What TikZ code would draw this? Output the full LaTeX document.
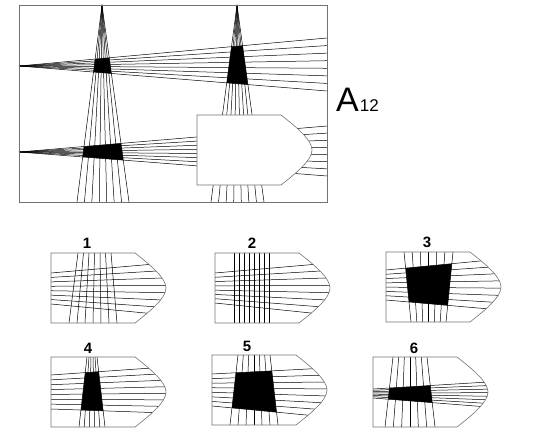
\documentclass[tikz,border=0pt]{standalone}
\usepackage{fontspec}
\setmainfont{Liberation Sans}
\usetikzlibrary{positioning}

\tikzset{
  ray/.style={line width=0.5pt, black},
  rim/.style={line width=0.6pt, black!55},
  optlabel/.style={font=\fontsize{15}{15}\selectfont\bfseries, inner sep=0pt}
}
% outline of the arrow shaped card, origin at its top left corner
\newcommand\tipoutline{(0,0) -- (84,0) .. controls (100,12.5) and (115,25) .. (115,35)
  .. controls (115,45) and (100,57.5) .. (84,70) -- (0,70) -- cycle}
% #1,#2 top ends, #3,#4 bottom ends, #5 number of gaps
\newcommand\vrays[5]{\foreach \k in {0,...,#5}{
    \draw[ray] ({#1+(#2-#1)*\k/#5},0) -- ({#3+(#4-#3)*\k/#5},70);}}
% #1,#2 left ends, #3,#4 right ends, #5 number of gaps
\newcommand\hrays[5]{\foreach \k in {0,...,#5}{
    \draw[ray] (0,{#1+(#2-#1)*\k/#5}) -- (115,{#3+(#4-#3)*\k/#5});}}
\newcommand\overlap[8]{\begin{scope}
    \clip (#1,0) -- (#2,0) -- (#4,70) -- (#3,70) -- cycle;
    \fill (0,#5) -- (115,#7) -- (115,#8) -- (0,#6) -- cycle;
  \end{scope}}

\begin{document}
\begin{tikzpicture}[x=1pt, y=-1pt]
  \useasboundingbox (0,0) rectangle (535,446);

  % the matrix
  \foreach \k in {0,...,7}{
    \draw[ray] (102,5) -- ({77+52*\k/7},202);
    \draw[ray] (237,5) -- ({211+53*\k/7},202);
    \draw[ray] (19,66) -- (327,{38+53*\k/7});
    \draw[ray] (19,152) -- (327,{126+50*\k/7});
  }
  \foreach \ax/\bl/\br in {102/77/129, 237/211/264}{
    \foreach \hy/\rt/\rb in {66/38/91, 152/126/176}{
      \begin{scope}
        \clip (\ax,5) -- (\bl,202) -- (\br,202) -- cycle;
        \fill (19,\hy) -- (327,\rt) -- (327,\rb) -- cycle;
      \end{scope}
    }
  }
  \begin{scope}[shift={(197,115)}]
    \filldraw[rim, fill=white] \tipoutline;
  \end{scope}
  \draw[rim] (19,5) rectangle (327,202);

  \node[font=\fontsize{34}{34}\selectfont, anchor=base west, inner sep=0pt] (title) at (336,112)
    {A\kern1pt\fontsize{17}{17}\selectfont 12};

  % the six answers
  \begin{scope}[shift={(51,253)}]
    \begin{scope} \clip \tipoutline;
      \vrays{27}{60}{18}{66}{6} \hrays{20}{51}{10}{62}{7}
    \end{scope}
    \draw[rim] \tipoutline;
  \end{scope}
  \begin{scope}[shift={(215,253)}]
    \begin{scope} \clip \tipoutline;
      \vrays{19}{54}{19}{54}{7} \hrays{20}{50}{10}{62}{7}
    \end{scope}
    \draw[rim] \tipoutline;
  \end{scope}
  \begin{scope}[shift={(386,252)}]
    \begin{scope} \clip \tipoutline;
      \vrays{18}{67}{25}{60}{6} \hrays{18}{48}{7}{58}{7}
      \overlap{18}{67}{25}{60}{18}{48}{7}{58}
    \end{scope}
    \draw[rim] \tipoutline;
  \end{scope}
  \begin{scope}[shift={(51,357)}]
    \begin{scope} \clip \tipoutline;
      \vrays{36}{46}{28}{54}{5} \hrays{18}{52}{10}{56}{7}
      \overlap{36}{46}{28}{54}{18}{52}{10}{56}
    \end{scope}
    \draw[rim] \tipoutline;
  \end{scope}
  \begin{scope}[shift={(212,355)}]
    \begin{scope} \clip \tipoutline;
      \vrays{26}{58}{18}{66}{6} \hrays{19}{51}{13}{62}{7}
      \overlap{26}{58}{18}{66}{19}{51}{13}{62}
    \end{scope}
    \draw[rim] \tipoutline;
  \end{scope}
  \begin{scope}[shift={(373,357)}]
    \begin{scope} \clip \tipoutline;
      \vrays{20}{54}{12}{62}{6} \hrays{32}{41}{25}{50}{7}
      \overlap{20}{54}{12}{62}{32}{41}{25}{50}
    \end{scope}
    \draw[rim] \tipoutline;
  \end{scope}

  \node[optlabel] (opt1) at (87,243) {1};
  \node[optlabel] (opt2) at (252,243) {2};
  \node[optlabel] (opt3) at (427,242) {3};
  \node[optlabel] (opt4) at (88,348) {4};
  \node[optlabel] (opt5) at (247,346) {5};
  \node[optlabel] (opt6) at (414,348) {6};
\end{tikzpicture}
\end{document}
